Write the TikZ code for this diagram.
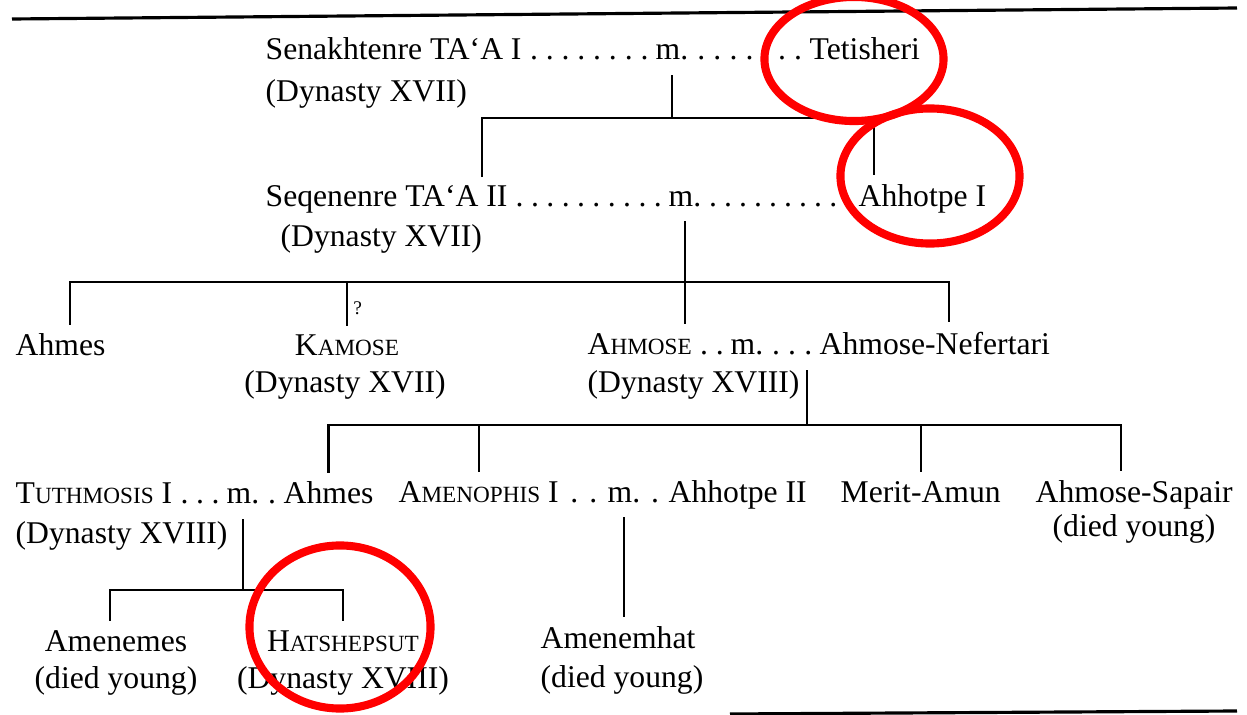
\documentclass[tikz,border=0pt]{standalone}
\usepackage{fontspec}
\setmainfont{Liberation Serif}
\usetikzlibrary{calc}
\newcommand{\rulersc}[2]{#1{\fontsize{6.6pt}{8pt}\selectfont #2}}
% dotted leaders between two names of a couple
\newcommand{\wedlink}[2]{%
  \path let \p1=(#1.base east), \p2=(#2.base west) in
    node[person] (dots-#1) at (\p1)
    {\hbox to \dimexpr\x2-\x1\relax{\hskip0.8pt\xleaders\hbox to 4.2pt{\hss.\hss}\hfill\hskip0.8pt}};}

\begin{document}
\begin{tikzpicture}[x=0.01cm, y=-0.01cm,
    person/.style={inner sep=0pt, anchor=base west, font=\fontsize{9pt}{11pt}\selectfont},
    kin/.style={line width=0.6pt},
    tochild/.style={shorten >=2.5pt},
    fromwed/.style={shorten <=4pt},
    query/.style={inner sep=1.5pt, font=\fontsize{5.5pt}{6pt}\selectfont},
    ringmark/.style={draw=red, line width=2.3pt},
    pagerule/.style={line width=0.9pt}
]
\useasboundingbox (0,0) rectangle (1247,715);
\clip (0,0) rectangle (1247,715);

\draw[pagerule] (12,19) -- (1237,8);
\draw[pagerule] (730,714) -- (1237,711);

% first couple
\node[person] (senakh) at (265,60) {Senakhtenre TA`A I};
\node[person] (m1) at (655,60) {m.};
\node[person] (tetish) at (809,60) {Tetisheri};
\node[person] (senakhd) at (265,101) {(Dynasty XVII)};
\wedlink{senakh}{m1}
\wedlink{m1}{tetish}

% second couple
\node[person] (seqen) at (265,206) {Seqenenre TA`A II};
\node[person] (m2) at (668,206) {m.};
\node[person] (ahhot1) at (858,206) {Ahhotpe I};
\node[person] (seqend) at (280,246) {(Dynasty XVII)};
\wedlink{seqen}{m2}
\wedlink{m2}{ahhot1}

\coordinate (bar1) at (0,118);
\coordinate (seqen-up) at ([xshift=-7.4pt]seqen.north east);
\coordinate (ahhot1-up) at ([xshift=4.5pt]ahhot1.north west);
\draw[kin, fromwed] (m1.south) -- (m1 |- bar1);
\draw[kin, shorten <=2pt, tochild] (seqen-up) -- (seqen-up |- bar1) -- (ahhot1-up |- bar1) -- (ahhot1-up);

% children of Seqenenre
\node[person] (ahmes1) at (15,356) {Ahmes};
\node[person, anchor=base] (kamose) at (347,356) {\rulersc{K}{AMOSE}};
\node[person, anchor=base] (kamosed) at (345,393) {(Dynasty XVII)};
\node[person] (ahmose) at (587,354) {\rulersc{A}{HMOSE}};
\node[person] (m3) at (730,354) {m.};
\node[person] (ahnef) at (819,354) {Ahmose-Nefertari};
\node[person] (ahmosed) at (587,393) {(Dynasty XVIII)};
\wedlink{ahmose}{m3}
\wedlink{m3}{ahnef}

\coordinate (bar2) at (0,282);
\coordinate (ahmes1-up) at ([xshift=2.8pt]ahmes1.north);
\coordinate (ahnef-up) at ([xshift=4pt]ahnef.north);
\draw[kin, fromwed, tochild] (m2.south) -- (m2 |- ahmose.north);
\draw[kin, shorten <=2.5pt, tochild] (ahmes1-up) -- (ahmes1-up |- bar2) -- (ahnef-up |- bar2) -- (ahnef-up);
\draw[kin, tochild] (kamose |- bar2) -- (kamose.north) node[query, midway, right] (qmark) {?};

% children of Ahmose
\node[person] (tuth) at (15,504) {\rulersc{T}{UTHMOSIS} I};
\node[person] (m4) at (226,504) {m.};
\node[person] (tuthw) at (283,504) {Ahmes};
\node[person] (tuthd) at (15,544) {(Dynasty XVIII)};
\node[person] (amen) at (398,502) {\rulersc{A}{MENOPHIS} I};
\node[person] (m5) at (607,502) {m.};
\node[person] (ahhot2) at (668,502) {Ahhotpe II};
\node[person] (merit) at (840,502) {Merit-Amun};
\node[person] (sapair) at (1035,502) {Ahmose-Sapair};
\node[person] (sapaird) at (1052,537) {(died young)};
\wedlink{tuth}{m4}
\wedlink{m4}{tuthw}
\wedlink{amen}{m5}
\wedlink{m5}{ahhot2}

\coordinate (bar3) at (0,425);
\coordinate (dyn3-down) at ([xshift=2pt]ahmosed.north east);
\coordinate (sapair-up) at ([xshift=-3.7pt]sapair.north);
\draw[kin] (dyn3-down) -- (dyn3-down |- bar3);
\draw[kin, shorten <=2.5pt, tochild] (tuthw.north) -- (tuthw |- bar3) -- (sapair-up |- bar3) -- (sapair-up);
\foreach \who in {amen, merit}
    \draw[kin, tochild] (\who |- bar3) -- (\who.north);

% grandchildren
\node[person, anchor=base] (amenemes) at (116,651) {Amenemes};
\node[person, anchor=base] (amenemesd) at (116,689) {(died young)};
\node[person, anchor=base] (hatshep) at (343,651) {\rulersc{H}{ATSHEPSUT}};
\node[person, anchor=base] (hatshepd) at (343,689) {(Dynasty XVIII)};
\node[person] (amenemhat) at (540,648) {Amenemhat};
\node[person] (amenemhatd) at (540,687) {(died young)};

\coordinate (bar4) at (0,590);
\coordinate (amenemes-up) at ([xshift=-1.7pt]amenemes.north);
\draw[kin, fromwed] (m4.south) -- (m4 |- bar4);
\draw[kin, shorten <=2.5pt, tochild] (amenemes-up) -- (amenemes-up |- bar4) -- (hatshep |- bar4) -- (hatshep.north);
\draw[kin, fromwed, tochild] (m5.south) -- (m5 |- amenemhat.north);

% red marks
\draw[ringmark] (854,59) ellipse [x radius=0.895cm, y radius=0.62cm];
\draw[ringmark] (930,176) ellipse [x radius=0.895cm, y radius=0.675cm];
\draw[ringmark] (340,627) ellipse [x radius=0.905cm, y radius=0.815cm];
\end{tikzpicture}
\end{document}
